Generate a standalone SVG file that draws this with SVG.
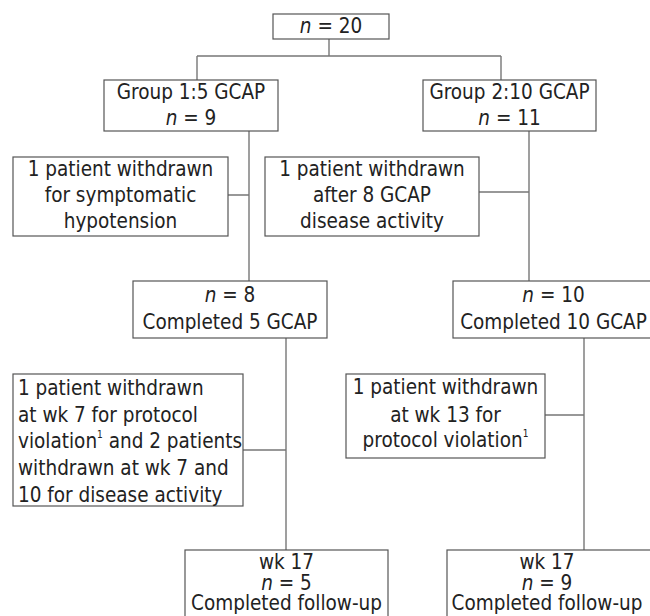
<svg xmlns="http://www.w3.org/2000/svg" width="650" height="616" viewBox="0 0 650 616">
<style>
.box{fill:#fff;stroke:#555;stroke-width:1.2}
.con{fill:none;stroke:#777;stroke-width:1.4}
text{font-family:"DejaVu Sans Condensed","DejaVu Sans",sans-serif;font-size:20.5px;fill:#222}
.c{text-anchor:middle}
.i{font-style:italic}
.s{font-size:10px}
</style>
<rect width="650" height="616" fill="#fff"/>
<g id="connectors">
<path class="con" d="M329,39 V56 M197,56 H501 M197,56 V80 M501,56 V80"/>
<path class="con" d="M249,131 V281 M228,195 H249"/>
<path class="con" d="M529,131 V281 M479,192 H529"/>
<path class="con" d="M286,338 V550 M243,450 H286"/>
<path class="con" d="M584,338 V550 M545,415 H584"/>
</g>
<g id="n20">
<rect class="box" x="273" y="14" width="116" height="25"/>
<text class="c" x="331" y="33"><tspan class="i">n</tspan> = 20</text>
</g>
<g id="group1">
<rect class="box" x="104" y="80" width="174" height="51"/>
<text class="c" x="191" y="99">Group 1:5 GCAP</text>
<text class="c" x="191" y="125"><tspan class="i">n</tspan> = 9</text>
</g>
<g id="group2">
<rect class="box" x="423" y="80" width="173" height="51"/>
<text class="c" x="509.5" y="99">Group 2:10 GCAP</text>
<text class="c" x="509.5" y="125"><tspan class="i">n</tspan> = 11</text>
</g>
<g id="withdrawn1">
<rect class="box" x="13" y="157" width="215" height="79"/>
<text class="c" x="120.5" y="175.7">1 patient withdrawn</text>
<text class="c" x="120.5" y="202.2">for symptomatic</text>
<text class="c" x="120.5" y="228.4">hypotension</text>
</g>
<g id="withdrawn2">
<rect class="box" x="265" y="157" width="214" height="79"/>
<text class="c" x="372" y="175.7">1 patient withdrawn</text>
<text class="c" x="372" y="202.2">after 8 GCAP</text>
<text class="c" x="372" y="228.4">disease activity</text>
</g>
<g id="n8">
<rect class="box" x="133" y="281" width="194" height="57"/>
<text class="c" x="230" y="301.7"><tspan class="i">n</tspan> = 8</text>
<text class="c" x="230" y="329">Completed 5 GCAP</text>
</g>
<g id="n10">
<rect class="box" x="453" y="281" width="200" height="57"/>
<text class="c" x="553.5" y="301.7"><tspan class="i">n</tspan> = 10</text>
<text class="c" x="553.5" y="329">Completed 10 GCAP</text>
</g>
<g id="withdrawn3">
<rect class="box" x="13" y="374" width="230" height="132"/>
<text x="18" y="395">1 patient withdrawn</text>
<text x="18" y="421.7">at wk 7 for protocol</text>
<text x="18" y="448.3">violation<tspan class="s" dy="-10">1</tspan><tspan dy="10"> and 2 patients</tspan></text>
<text x="18" y="475">withdrawn at wk 7 and</text>
<text x="18" y="501.7">10 for disease activity</text>
</g>
<g id="withdrawn4">
<rect class="box" x="346" y="374" width="199" height="84"/>
<text class="c" x="445.5" y="394">1 patient withdrawn</text>
<text class="c" x="445.5" y="421.7">at wk 13 for</text>
<text class="c" x="445.5" y="447">protocol violation<tspan class="s" dy="-10">1</tspan></text>
</g>
<g id="wk17a">
<rect class="box" x="185" y="550" width="203" height="70"/>
<text class="c" x="286.5" y="569">wk 17</text>
<text class="c" x="286.5" y="589.5"><tspan class="i">n</tspan> = 5</text>
<text class="c" x="286.5" y="610">Completed follow-up</text>
</g>
<g id="wk17b">
<rect class="box" x="447" y="550" width="206" height="70"/>
<text class="c" x="547" y="569">wk 17</text>
<text class="c" x="547" y="589.5"><tspan class="i">n</tspan> = 9</text>
<text class="c" x="547" y="610">Completed follow-up</text>
</g>
</svg>
